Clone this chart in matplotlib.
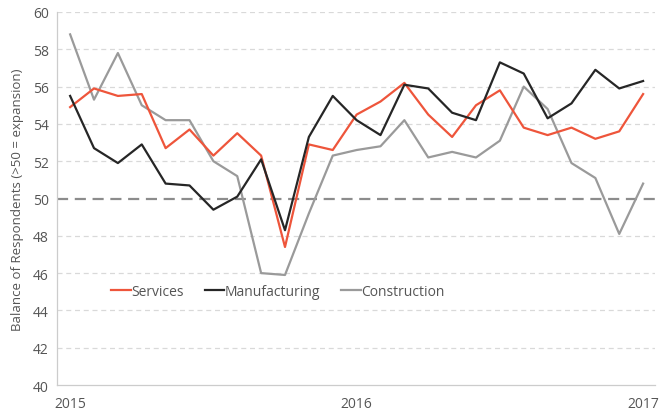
import matplotlib.pyplot as plt

plt.rcParams['font.family'] = ['Open Sans', 'DejaVu Sans']

# monthly balances, Jan 2015 .. Jan 2017
services = [54.9, 55.9, 55.5, 55.6, 52.7, 53.7, 52.3, 53.5, 52.3, 47.4, 52.9, 52.6,
            54.5, 55.2, 56.2, 54.5, 53.3, 55.0, 55.8, 53.8, 53.4, 53.8, 53.2, 53.6, 55.6]
manufacturing = [55.5, 52.7, 51.9, 52.9, 50.8, 50.7, 49.4, 50.1, 52.1, 48.3, 53.3, 55.5,
                 54.2, 53.4, 56.1, 55.9, 54.6, 54.2, 57.3, 56.7, 54.3, 55.1, 56.9, 55.9, 56.3]
construction = [58.8, 55.3, 57.8, 55.0, 54.2, 54.2, 52.0, 51.2, 46.0, 45.9, 49.2, 52.3,
                52.6, 52.8, 54.2, 52.2, 52.5, 52.2, 53.1, 56.0, 54.8, 51.9, 51.1, 48.1, 50.8]
months = list(range(len(services)))
year_ticks = [0, 12, 24]
year_labels = ["2015", "2016", "2017"]
yticks = list(range(40, 61, 2))

fig = plt.figure(figsize=(6.59, 4.14), dpi=100)
ax = fig.add_axes([0.0865, 0.0676, 0.9075, 0.901])

for y in yticks[1:]:
    if y == 50:
        continue
    ax.axhline(y, color="#d9d9d9", lw=0.9, ls=(0, (4, 3)), zorder=0)
ax.axhline(50, color="#8c8c8c", lw=1.6, ls=(0, (5, 3)), zorder=1)

ax.plot(months, services, color="#ee553b", lw=1.6, label="Services", zorder=3)
ax.plot(months, manufacturing, color="#262626", lw=1.6, label="Manufacturing", zorder=3)
ax.plot(months, construction, color="#9a9a9a", lw=1.6, label="Construction", zorder=2)

ax.set_xlim(-0.55, 24.5)
ax.set_ylim(40, 60)
ax.set_yticks(yticks)
ax.set_xticks(year_ticks)
ax.set_xticklabels(year_labels)
ax.tick_params(length=0, labelsize=10, colors="#555555", pad=8)
ax.tick_params(axis='y', pad=6)
ax.set_ylabel("Balance of Respondents (>50 = expansion)", fontsize=9.5, color="#555555", labelpad=6)

for s in ["top", "right"]:
    ax.spines[s].set_visible(False)
for s in ["left", "bottom"]:
    ax.spines[s].set_color("#cccccc")
    ax.spines[s].set_linewidth(0.9)

leg = ax.legend(loc="center left", bbox_to_anchor=(0.07, 0.252), ncol=3, frameon=False,
                handlelength=1.4, handletextpad=0.05, columnspacing=1.5, fontsize=10)
for t in leg.get_texts():
    t.set_color("#555555")

plt.savefig("out.png")
